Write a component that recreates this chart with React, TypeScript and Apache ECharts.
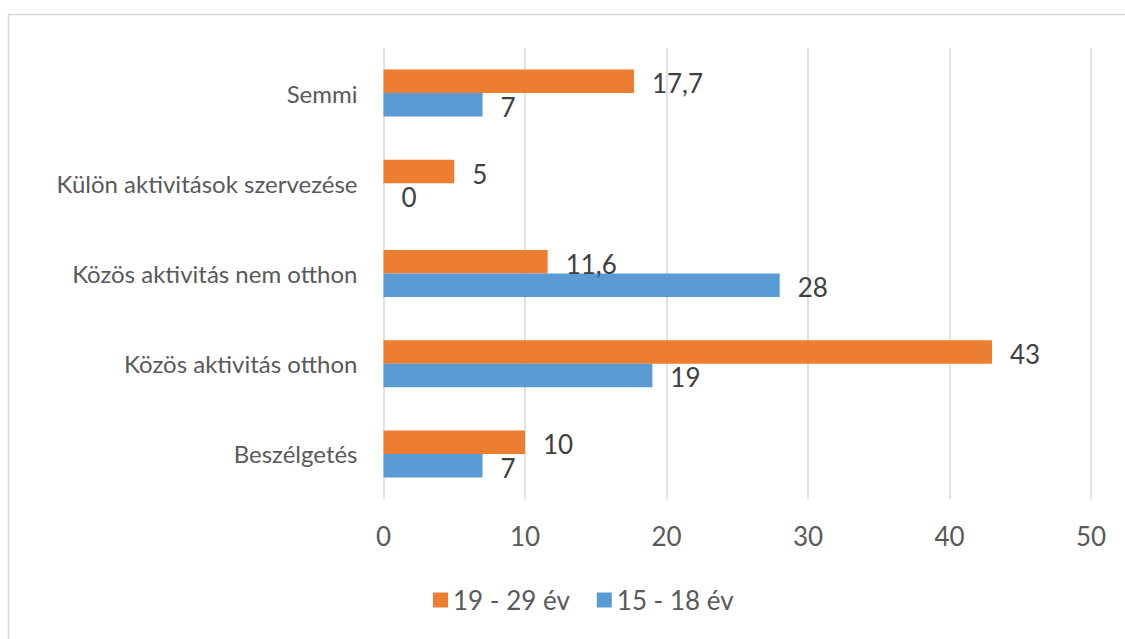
import React, { useEffect, useRef } from "react";
import * as echarts from "echarts";

const categories = [
  "Beszélgetés",
  "Közös aktivitás otthon",
  "Közös aktivitás nem otthon",
  "Külön aktivitások szervezése",
  "Semmi",
];
const series1929 = [10, 43, 11.6, 5, 17.7];
const series1518 = [7, 19, 28, 0, 7];
const seriesNames = ["19 - 29 év", "15 - 18 év"];
const xTicks = { min: 0, max: 50, interval: 10 };

const FONT = "Lato, sans-serif";
const FS = 26;
const FS_CAT = 24;

export default function App() {
  const ref = useRef<HTMLDivElement>(null);
  useEffect(() => {
    if (!ref.current) return;
    const chart = echarts.init(ref.current, undefined, { renderer: "svg" });
    const fmt = (p: any) => String(p.value).replace(".", ",");
    chart.setOption({
      animation: false,
      backgroundColor: "#ffffff",
      textStyle: { fontFamily: FONT },
      graphic: [
        {
          type: "rect",
          shape: { x: 8.5, y: 14.5, width: 1300, height: 800 },
          style: { fill: "none", stroke: "#d9d9d9", lineWidth: 1.5 },
          silent: true,
        },
      ],
      grid: { left: 383.5, right: 34, top: 48, bottom: 140, containLabel: false },
      legend: {
        left: 428,
        top: 582,
        itemWidth: 15,
        itemHeight: 15,
        itemGap: 27,
        icon: "rect",
        data: seriesNames,
        textStyle: { color: "#595959", fontSize: FS, fontFamily: FONT },
      },
      xAxis: {
        type: "value",
        min: xTicks.min,
        max: xTicks.max,
        interval: xTicks.interval,
        axisLine: { show: false },
        axisTick: { show: false },
        axisLabel: { color: "#595959", fontSize: FS, margin: 24, fontFamily: FONT },
        splitLine: { show: true, lineStyle: { color: "#d9d9d9", width: 1.5 } },
      },
      yAxis: {
        type: "category",
        data: categories,
        axisLine: { show: false },
        axisTick: { show: false },
        axisLabel: { color: "#595959", fontSize: FS_CAT, margin: 26, fontFamily: FONT },
        splitLine: { show: false },
      },
      series: [
        {
          name: seriesNames[0],
          type: "bar",
          data: series1929,
          barWidth: 23.5,
          barGap: "0%",
          itemStyle: { color: "#ED7D31" },
          label: {
            show: true,
            position: "right",
            distance: 18,
            color: "#404040",
            fontSize: FS,
            fontFamily: FONT,
            formatter: fmt,
            offset: [0, 2],
          },
        },
        {
          name: seriesNames[1],
          type: "bar",
          data: series1518,
          barWidth: 23.5,
          barGap: "0%",
          itemStyle: { color: "#5B9BD5" },
          label: {
            show: true,
            position: "right",
            distance: 18,
            color: "#404040",
            fontSize: FS,
            fontFamily: FONT,
            formatter: fmt,
            offset: [0, 2],
          },
        },
      ],
    });
    return () => chart.dispose();
  }, []);
  return (
    <div
      ref={ref}
      style={{ position: "fixed", left: 0, top: 0, width: 1125, height: 639 }}
    />
  );
}
